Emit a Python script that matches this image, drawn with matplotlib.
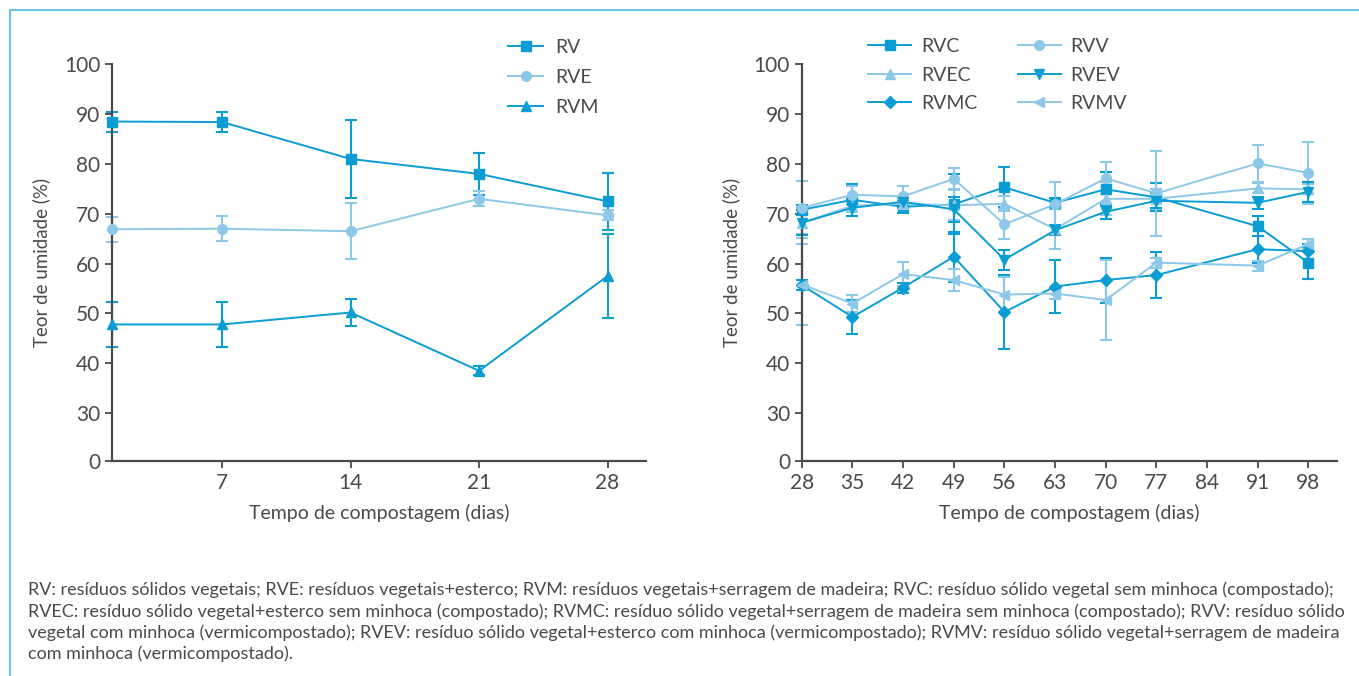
import numpy as np
import matplotlib
matplotlib.use("Agg")
import matplotlib.pyplot as plt
from matplotlib.lines import Line2D

plt.rcParams['font.family'] = ['Lato', 'DejaVu Sans']

# ---- data (left panel) ----
days_a = [1, 7, 14, 21, 28]
rv = [88.5, 88.4, 81.0, 78.0, 72.5]
rv_err = [2.0, 2.0, 7.8, 4.2, 5.7]
rve = [66.9, 67.0, 66.5, 73.0, 69.7]
rve_err = [2.5, 2.5, 5.6, 1.5, 1.0]
rvm = [47.8, 47.8, 50.2, 38.5, 57.5]
rvm_err = [4.5, 4.5, 2.7, 0.9, 8.5]

# ---- data (right panel) ----
days_b = [28, 35, 42, 49, 56, 63, 70, 77, 91, 98]
rvc = [70.8, 72.8, 71.4, 71.9, 75.3, 72.2, 74.9, 73.3, 67.5, 60.2]
rvc_err = [1.0, 3.2, 1.3, 6.0, 4.0, 1.0, 3.4, 2.8, 2.0, 3.2]
rvv = [71.2, 73.8, 73.5, 77.0, 67.9, 71.9, 77.1, 74.1, 80.1, 78.2]
rvv_err = [5.3, 1.8, 2.0, 2.1, 3.0, 4.4, 3.2, 8.5, 3.7, 6.2]
rvec = [68.2, 71.6, 72.0, 71.7, 72.0, 66.9, 73.0, 73.0, 75.1, 74.9]
rvec_err = [3.0, 1.2, 1.0, 3.0, 1.5, 4.0, 3.3, 2.0, 1.0, 1.0]
rvev = [68.2, 71.2, 72.4, 70.9, 60.8, 66.7, 70.4, 72.6, 72.2, 74.4]
rvev_err = [2.5, 1.7, 1.0, 2.5, 2.0, 1.0, 1.5, 1.5, 1.2, 2.0]
rvmc = [55.7, 49.3, 55.2, 61.4, 50.3, 55.4, 56.7, 57.7, 62.9, 62.5]
rvmc_err = [1.0, 3.4, 1.0, 5.0, 7.4, 5.3, 4.5, 4.6, 2.7, 1.5]
rvmv = [55.8, 52.0, 57.9, 56.7, 53.8, 54.0, 52.7, 60.2, 59.6, 63.9]
rvmv_err = [8.2, 1.8, 2.4, 2.2, 3.6, 1.0, 8.0, 1.0, 1.0, 1.0]

yticks = [30, 40, 50, 60, 70, 80, 90, 100]
ybot = 20.4

dark = '#0a9dd4'
light = '#8dc8e8'
txt = '#4a4a4a'

fig = plt.figure(figsize=(13.59, 6.76), dpi=100)
axL = fig.add_axes([0.0824, 0.318, 0.393, 0.587])
axR = fig.add_axes([0.590, 0.318, 0.394, 0.587])


def series(ax, x, y, e, c, m, lab, ms=7):
    ax.errorbar(x, y, yerr=e, fmt='none', ecolor=c, elinewidth=1.5,
                capsize=4, capthick=1.5, clip_on=False, zorder=2)
    ax.plot(x, y, color=c, marker=m, ms=ms, lw=1.4, clip_on=False,
            zorder=3, label=lab)


def style(ax, xlim, xticks):
    ax.set_xlim(*xlim)
    ax.set_ylim(ybot, 100)
    ax.set_yticks([ybot] + yticks)
    ax.set_yticklabels(['0'] + [str(t) for t in yticks])
    ax.set_xticks(xticks)
    ax.set_xticklabels([str(t) for t in xticks])
    for s in ['top', 'right']:
        ax.spines[s].set_visible(False)
    for s in ['left', 'bottom']:
        ax.spines[s].set_color('#4a4a4a')
        ax.spines[s].set_linewidth(1.6)
    ax.tick_params(colors='#4a4a4a', labelcolor=txt, labelsize=15,
                   length=5, width=1.3)
    ax.set_ylabel('Teor de umidade (%)', fontsize=13.5, color=txt, labelpad=10)
    ax.set_xlabel('Tempo de compostagem (dias)', fontsize=14, color=txt,
                  labelpad=8)


series(axL, days_a, rv, rv_err, dark, 's', 'RV')
series(axL, days_a, rve, rve_err, light, 'o', 'RVE')
series(axL, days_a, rvm, rvm_err, dark, '^', 'RVM')
style(axL, (1, 30.1), [7, 14, 21, 28])

series(axR, days_b, rvc, rvc_err, dark, 's', 'RVC')
series(axR, days_b, rvec, rvec_err, light, '^', 'RVEC')
series(axR, days_b, rvmc, rvmc_err, dark, 'D', 'RVMC', ms=6)
series(axR, days_b, rvv, rvv_err, light, 'o', 'RVV')
series(axR, days_b, rvev, rvev_err, dark, 'v', 'RVEV')
series(axR, days_b, rvmv, rvmv_err, light, '<', 'RVMV')
style(axR, (28, 102), [28, 35, 42, 49, 56, 63, 70, 77, 84, 91, 98])

axL.legend(loc='upper left', bbox_to_anchor=(0.374, 0.943),
           bbox_transform=fig.transFigure, frameon=False, fontsize=14,
           handlelength=1.8, handletextpad=0.6, borderpad=0,
           borderaxespad=0, labelspacing=0.68, labelcolor=txt)
axR.legend(loc='upper left', bbox_to_anchor=(0.639, 0.944),
           bbox_transform=fig.transFigure, frameon=False, fontsize=14,
           handlelength=2.2, handletextpad=0.5, borderpad=0,
           borderaxespad=0, labelspacing=0.6, ncol=2,
           columnspacing=2.1, labelcolor=txt)

# frame lines
frame = '#6cc4e6'
fig.add_artist(Line2D([10 / 1359, 1], [1 - 10 / 676, 1 - 10 / 676],
                      color=frame, lw=1.5, transform=fig.transFigure))
fig.add_artist(Line2D([10 / 1359, 10 / 1359], [0, 1 - 10 / 676],
                      color=frame, lw=1.5, transform=fig.transFigure))

caption = [
    "RV: resíduos sólidos vegetais; RVE: resíduos vegetais+esterco; RVM: resíduos vegetais+serragem de madeira; RVC: resíduo sólido vegetal sem minhoca (compostado);",
    "RVEC: resíduo sólido vegetal+esterco sem minhoca (compostado); RVMC: resíduo sólido vegetal+serragem de madeira sem minhoca (compostado); RVV: resíduo sólido",
    "vegetal com minhoca (vermicompostado); RVEV: resíduo sólido vegetal+esterco com minhoca (vermicompostado); RVMV: resíduo sólido vegetal+serragem de madeira",
    "com minhoca (vermicompostado).",
]
for i, line in enumerate(caption):
    fig.text(28 / 1359, 1 - (590 + i * 21.3) / 676, line, fontsize=13,
             color=txt, va='center', ha='left')

fig.savefig('out.png', dpi=100)
